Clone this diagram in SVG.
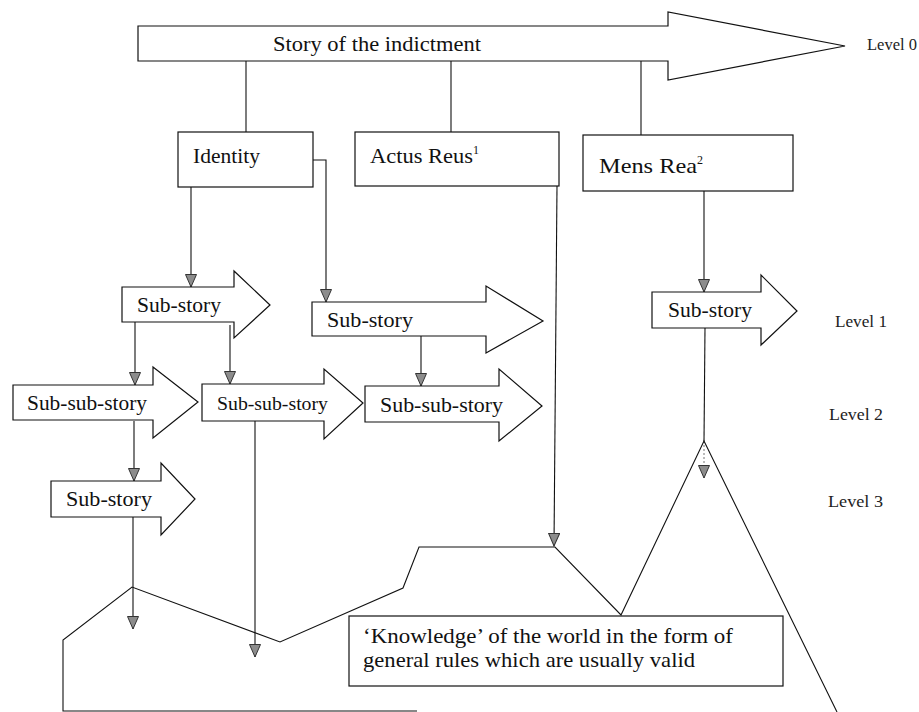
<svg xmlns="http://www.w3.org/2000/svg" width="919" height="712" viewBox="0 0 919 712">
<style>
.shape{fill:#fff;stroke:#111;stroke-width:1.2}
.line{fill:none;stroke:#111;stroke-width:1.1}
text{font-family:'Liberation Serif','Times New Roman','DejaVu Serif',serif}
.t{fill:#111}
.lv{fill:#222;font-size:16px}
.sup{fill:#111;font-size:12px}
</style>
<defs>
<marker id="ah" markerUnits="userSpaceOnUse" markerWidth="14" markerHeight="12" refX="13" refY="6" orient="auto" viewBox="0 0 14 12">
<path d="M0.5,0.5 L13,6 L0.5,11.5 Z" fill="#8c8c8c" stroke="#333" stroke-width="1"/>
</marker>
</defs>
<rect width="919" height="712" fill="#fff"/>

<g id="connectors">
<line class="line" x1="246" y1="61" x2="246" y2="132"/>
<line class="line" x1="451" y1="61" x2="451" y2="132"/>
<line class="line" x1="641" y1="61" x2="641" y2="135"/>
<line class="line" x1="191" y1="187" x2="191" y2="287" marker-end="url(#ah)"/>
<polyline class="line" points="313,160 326,160 326,302" marker-end="url(#ah)"/>
<line class="line" x1="557" y1="186" x2="554" y2="546" marker-end="url(#ah)"/>
<line class="line" x1="704" y1="191" x2="704" y2="292" marker-end="url(#ah)"/>
<line class="line" x1="135" y1="322" x2="135" y2="385" marker-end="url(#ah)"/>
<line class="line" x1="230" y1="325" x2="230" y2="384" marker-end="url(#ah)"/>
<line class="line" x1="421" y1="336" x2="421" y2="386" marker-end="url(#ah)"/>
<line class="line" x1="134" y1="421" x2="134" y2="481" marker-end="url(#ah)"/>
<line class="line" x1="133" y1="517" x2="133" y2="629" marker-end="url(#ah)"/>
<line class="line" x1="255" y1="421" x2="255" y2="657" marker-end="url(#ah)"/>
<line class="line" x1="705" y1="328" x2="704" y2="441"/>
<line x1="704" y1="441" x2="704" y2="478" stroke="#777" stroke-width="1" stroke-dasharray="2,2" marker-end="url(#ah)"/>
</g>

<g id="level0">
<path class="shape" d="M138,26 L668,26 L668,12 L845,46 L668,80 L668,61 L138,61 Z"/>
<text class="t" x="273" y="51" font-size="22" textLength="208" lengthAdjust="spacingAndGlyphs">Story of the indictment</text>
</g>

<g id="identity">
<rect class="shape" x="178" y="132" width="135" height="55"/>
<text class="t" x="193" y="163" font-size="21" textLength="67" lengthAdjust="spacingAndGlyphs">Identity</text>
</g>

<g id="actus-reus">
<rect class="shape" x="355" y="132" width="204" height="54"/>
<text class="t" x="370" y="163" font-size="21" textLength="103" lengthAdjust="spacingAndGlyphs">Actus Reus</text>
<text class="sup" x="473" y="154">1</text>
</g>

<g id="mens-rea">
<rect class="shape" x="583" y="135" width="210" height="56"/>
<text class="t" x="599" y="173" font-size="21" textLength="98" lengthAdjust="spacingAndGlyphs">Mens Rea</text>
<text class="sup" x="697" y="164">2</text>
</g>

<g id="substory-1">
<path class="shape" d="M122,287 L234,287 L234,271 L270,305 L234,338 L234,322 L122,322 Z"/>
<text class="t" x="137" y="312" font-size="21" textLength="84" lengthAdjust="spacingAndGlyphs">Sub-story</text>
</g>

<g id="substory-2">
<path class="shape" d="M312,302 L486,302 L486,286 L543,321 L486,353 L486,336 L312,336 Z"/>
<text class="t" x="327" y="327" font-size="21" textLength="86" lengthAdjust="spacingAndGlyphs">Sub-story</text>
</g>

<g id="substory-right">
<path class="shape" d="M652,292 L761,292 L761,275 L797,311 L761,345 L761,328 L652,328 Z"/>
<text class="t" x="668" y="317" font-size="21" textLength="84" lengthAdjust="spacingAndGlyphs">Sub-story</text>
</g>

<g id="subsubstory-1">
<path class="shape" d="M13,385 L153,385 L153,367 L198,402 L153,438 L153,420 L13,420 Z"/>
<text class="t" x="27" y="410" font-size="21" textLength="120" lengthAdjust="spacingAndGlyphs">Sub-sub-story</text>
</g>

<g id="subsubstory-2">
<path class="shape" d="M202,384 L324,384 L324,369 L363,403 L324,439 L324,421 L202,421 Z"/>
<text class="t" x="217" y="410" font-size="19" textLength="111" lengthAdjust="spacingAndGlyphs">Sub-sub-story</text>
</g>

<g id="subsubstory-3">
<path class="shape" d="M365,386 L499,386 L499,369 L542,406 L499,441 L499,422 L365,422 Z"/>
<text class="t" x="380" y="412" font-size="21" textLength="123" lengthAdjust="spacingAndGlyphs">Sub-sub-story</text>
</g>

<g id="substory-3">
<path class="shape" d="M51,481 L161,481 L161,463 L195,499 L161,535 L161,517 L51,517 Z"/>
<text class="t" x="66" y="506" font-size="21" textLength="86" lengthAdjust="spacingAndGlyphs">Sub-story</text>
</g>

<g id="knowledge-landscape">
<polyline class="line" points="417,711 63,711 63,640 132,587 280,642 403,588 419,547 555,547 621,615 704,441 837,712"/>
</g>

<g id="knowledge">
<rect class="shape" x="349" y="616" width="434" height="70"/>
<text class="t" x="363" y="643" font-size="21" textLength="370" lengthAdjust="spacingAndGlyphs">‘Knowledge’ of the world in the form of</text>
<text class="t" x="363" y="667" font-size="21" textLength="332" lengthAdjust="spacingAndGlyphs">general rules which are usually valid</text>
</g>

<g id="levels">
<text class="lv" x="867" y="50" textLength="50" lengthAdjust="spacingAndGlyphs">Level 0</text>
<text class="lv" x="835" y="327" textLength="52" lengthAdjust="spacingAndGlyphs">Level 1</text>
<text class="lv" x="829" y="420" textLength="54" lengthAdjust="spacingAndGlyphs">Level 2</text>
<text class="lv" x="828" y="507" textLength="55" lengthAdjust="spacingAndGlyphs">Level 3</text>
</g>
</svg>
